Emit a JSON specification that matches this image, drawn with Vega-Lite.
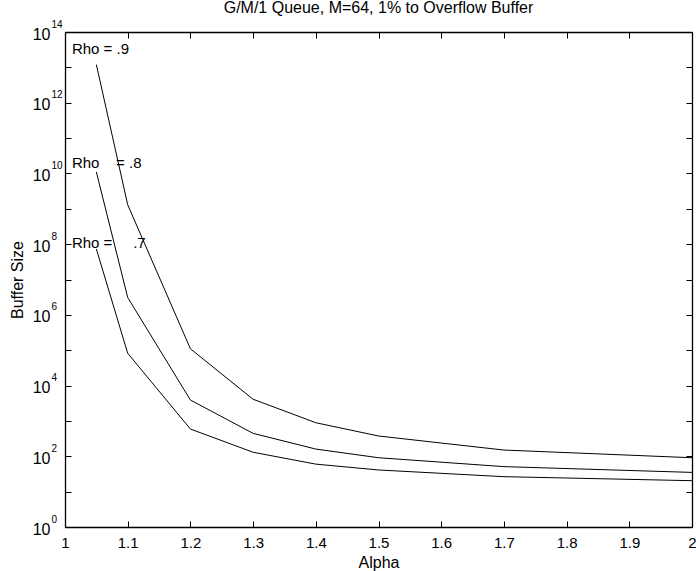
{
  "$schema": "https://vega.github.io/schema/vega-lite/v6.json",
  "width": 627,
  "height": 495,
  "autosize": {"type": "none"},
  "padding": {"left": 65, "top": 32, "right": 4, "bottom": 44},
  "background": "white",
  "title": {
    "text": "G/M/1 Queue, M=64, 1% to Overflow Buffer",
    "font": "Liberation Sans",
    "fontSize": 16,
    "fontWeight": "normal",
    "color": "black",
    "anchor": "middle",
    "baseline": "alphabetic",
    "offset": 4,
    "dy": 14
  },
  "config": {
    "view": {"stroke": null},
    "font": "Liberation Sans",
    "axis": {
      "grid": false,
      "domainColor": "black",
      "domainWidth": 1.3,
      "tickColor": "black",
      "tickSize": -6,
      "tickWidth": 1,
      "labelFont": "Liberation Sans",
      "labelFontSize": 15,
      "labelColor": "black",
      "titleFont": "Liberation Sans",
      "titleFontSize": 16,
      "titleFontWeight": "normal",
      "titleColor": "black"
    }
  },
  "datasets": {
    "curves": [
      {"rho": ".9", "alpha": 1.05, "size": 1.2e13},
      {"rho": ".9", "alpha": 1.1, "size": 1.3e9},
      {"rho": ".9", "alpha": 1.2, "size": 1.1e5},
      {"rho": ".9", "alpha": 1.3, "size": 4100},
      {"rho": ".9", "alpha": 1.4, "size": 890},
      {"rho": ".9", "alpha": 1.5, "size": 375},
      {"rho": ".9", "alpha": 1.7, "size": 150},
      {"rho": ".9", "alpha": 2.0, "size": 91},
      {"rho": ".8", "alpha": 1.05, "size": 1.1e10},
      {"rho": ".8", "alpha": 1.1, "size": 3.1e6},
      {"rho": ".8", "alpha": 1.2, "size": 3900},
      {"rho": ".8", "alpha": 1.3, "size": 445},
      {"rho": ".8", "alpha": 1.4, "size": 160},
      {"rho": ".8", "alpha": 1.5, "size": 91},
      {"rho": ".8", "alpha": 1.7, "size": 51},
      {"rho": ".8", "alpha": 2.0, "size": 35},
      {"rho": ".7", "alpha": 1.05, "size": 7.3e7},
      {"rho": ".7", "alpha": 1.1, "size": 8.2e4},
      {"rho": ".7", "alpha": 1.2, "size": 590},
      {"rho": ".7", "alpha": 1.3, "size": 130},
      {"rho": ".7", "alpha": 1.4, "size": 60},
      {"rho": ".7", "alpha": 1.5, "size": 41},
      {"rho": ".7", "alpha": 1.7, "size": 26.5},
      {"rho": ".7", "alpha": 2.0, "size": 20.4}
    ],
    "labels": [
      {"label": "Rho = .9", "alpha": 1.011, "size": 2.45e13},
      {"label": "Rho\u00a0\u00a0\u00a0\u00a0=\u00a0.8", "alpha": 1.011, "size": 1.45e10},
      {"label": "Rho =\u00a0\u00a0\u00a0\u00a0\u00a0.7", "alpha": 1.011, "size": 7.6e7}
    ]
  },
  "layer": [
    {
      "data": {"name": "curves"},
      "mark": {"type": "line", "color": "black", "strokeWidth": 1},
      "encoding": {
        "x": {
          "field": "alpha",
          "type": "quantitative",
          "scale": {"domain": [1, 2], "nice": false, "zero": false},
          "axis": {
            "orient": "bottom",
            "title": "Alpha",
            "values": [1, 1.1, 1.2, 1.3, 1.4, 1.5, 1.6, 1.7, 1.8, 1.9, 2],
            "format": ".1~f",
            "labelPadding": 14,
            "labelFlush": false,
            "titleX": 313.5,
            "titleY": 35,
            "titleBaseline": "middle",
            "titleAlign": "center"
          }
        },
        "y": {
          "field": "size",
          "type": "quantitative",
          "scale": {"type": "log", "domain": [1, 1e14], "nice": false},
          "axis": {
            "orient": "left",
            "title": "Buffer Size",
            "values": [1, 10, 100, 1000, 10000, 100000, 1000000, 10000000, 100000000, 1000000000, 10000000000, 100000000000, 1000000000000, 10000000000000, 100000000000000],
            "labelExpr": "round(log(datum.value)/LN10) % 2 == 0 ? '10' : ''",
            "labelFontSize": 16,
            "labelPadding": 21,
            "labelOffset": 2,
            "labelFlush": false,
            "labelBaseline": "middle",
            "labelOverlap": false,
            "titleX": -47.5,
            "titleY": 247.5,
            "titleAngle": -90,
            "titleBaseline": "middle",
            "titleAlign": "center"
          }
        },
        "detail": {"field": "rho", "type": "nominal"}
      }
    },
    {
      "data": {"name": "labels"},
      "mark": {"type": "text", "align": "left", "baseline": "alphabetic", "font": "Liberation Sans", "fontSize": 15, "color": "black"},
      "encoding": {
        "x": {
          "field": "alpha",
          "type": "quantitative",
          "axis": {
            "orient": "top",
            "title": null,
            "labels": false,
            "values": [1, 1.1, 1.2, 1.3, 1.4, 1.5, 1.6, 1.7, 1.8, 1.9, 2]
          }
        },
        "y": {
          "field": "size",
          "type": "quantitative",
          "axis": {
            "orient": "right",
            "title": null,
            "labels": false,
            "values": [1, 10, 100, 1000, 10000, 100000, 1000000, 10000000, 100000000, 1000000000, 10000000000, 100000000000, 1000000000000, 10000000000000, 100000000000000]
          }
        },
        "text": {"field": "label", "type": "nominal"}
      }
    },
    {
      "data": {"name": "curves"},
      "mark": {"type": "point", "opacity": 0},
      "encoding": {
        "x": {"field": "alpha", "type": "quantitative", "axis": null},
        "y": {
          "field": "size",
          "type": "quantitative",
          "axis": {
            "orient": "left",
            "title": null,
            "domain": false,
            "ticks": false,
            "values": [1, 100, 10000, 1000000, 100000000, 10000000000, 1000000000000, 100000000000000],
            "labelExpr": "'' + round(log(datum.value)/LN10)",
            "labelFontSize": 10,
            "labelAlign": "left",
            "labelBaseline": "middle",
            "labelPadding": 14,
            "labelOffset": -8,
            "labelFlush": false,
            "labelOverlap": false
          }
        }
      }
    }
  ],
  "resolve": {"axis": {"x": "independent", "y": "independent"}}
}
